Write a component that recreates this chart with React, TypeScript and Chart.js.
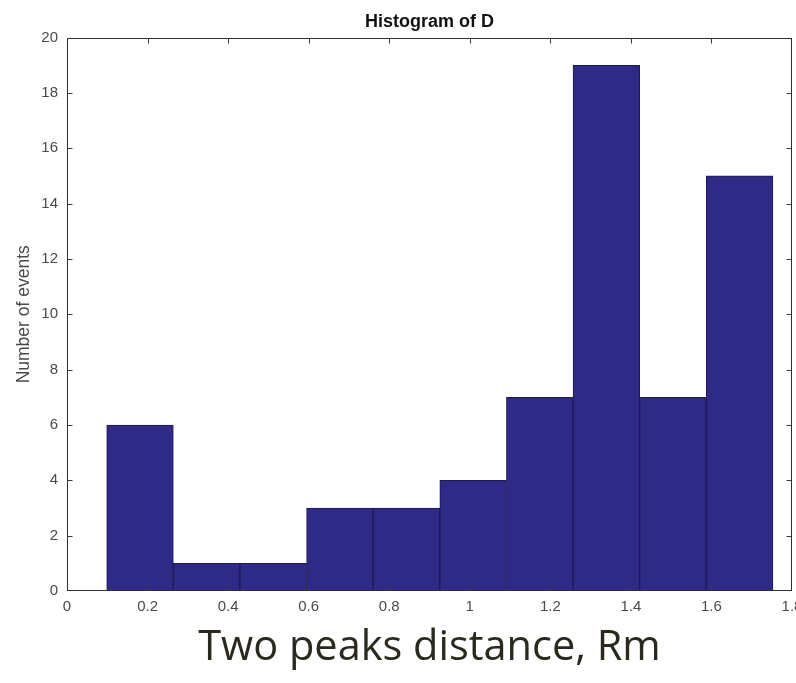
import React, { useEffect, useRef } from 'react';
import { Chart, registerables } from 'chart.js';

Chart.register(...registerables);

// Histogram bin edges (11 edges -> 10 bins) and counts
const binEdges = [0.0986, 0.264, 0.4294, 0.5948, 0.7602, 0.9256, 1.091, 1.2564, 1.4218, 1.5872, 1.7526];
const counts = [6, 1, 1, 3, 3, 4, 7, 19, 7, 15];

const xTickValues = [0, 0.2, 0.4, 0.6, 0.8, 1, 1.2, 1.4, 1.6, 1.8];
const xTickLabels = ['0', '0.2', '0.4', '0.6', '0.8', '1', '1.2', '1.4', '1.6', '1.8'];
const yTickValues = [0, 2, 4, 6, 8, 10, 12, 14, 16, 18, 20];
const yTickLabels = ['0', '2', '4', '6', '8', '10', '12', '14', '16', '18', '20'];

const chartTitle = 'Histogram of D';
const yTitle = 'Number of events';
const xTitle = 'Two peaks distance, Rm';

const framePlugin = {
  id: 'matlabFrame',
  afterDatasetsDraw(chart: any) {
    const { ctx, chartArea: a, scales } = chart;
    const L = Math.round(a.left) + 0.5;
    const R = Math.round(a.right) - 0.5;
    const T = Math.round(a.top) + 0.5;
    const B = Math.round(a.bottom) - 0.5;
    ctx.save();
    ctx.strokeStyle = '#2e2e2e';
    ctx.lineWidth = 1;
    ctx.strokeRect(L, T, R - L, B - T);
    const tl = 5;
    ctx.strokeStyle = '#3a3a3a';
    ctx.beginPath();
    xTickValues.forEach((v) => {
      const px = Math.round(scales.x.getPixelForValue(v)) + 0.5;
      if (px <= L + 1 || px >= R - 1) return;
      ctx.moveTo(px, B);
      ctx.lineTo(px, B - tl);
      ctx.moveTo(px, T);
      ctx.lineTo(px, T + tl);
    });
    yTickValues.forEach((v) => {
      const py = Math.round(scales.y.getPixelForValue(v)) + 0.5;
      if (py <= T + 1 || py >= B - 1) return;
      ctx.moveTo(L, py);
      ctx.lineTo(L + tl, py);
      ctx.moveTo(R, py);
      ctx.lineTo(R - tl, py);
    });
    ctx.stroke();
    ctx.restore();
  },
};

export default function App() {
  const ref = useRef<HTMLCanvasElement | null>(null);

  useEffect(() => {
    if (!ref.current) return;
    const data = counts.map((c, i) => ({ x: (binEdges[i] + binEdges[i + 1]) / 2, y: c }));
    const chart = new Chart(ref.current, {
      type: 'bar',
      data: {
        datasets: [
          {
            data: data as any,
            backgroundColor: '#2e2a86',
            borderColor: '#1c1957',
            borderWidth: 1,
            barPercentage: 1,
            categoryPercentage: 1,
          },
        ],
      },
      plugins: [framePlugin],
      options: {
        responsive: false,
        animation: false,
        devicePixelRatio: 1,
        layout: { padding: { left: 0, right: 4, top: 0, bottom: 0 } },
        plugins: {
          legend: { display: false },
          tooltip: { enabled: false },
          title: {
            display: true,
            fullSize: false,
            text: chartTitle,
            color: '#111111',
            font: { family: 'Liberation Sans', size: 18, weight: 'bold' },
            padding: { top: 11, bottom: 5 },
          },
        },
        scales: {
          x: {
            type: 'linear',
            min: 0,
            max: 1.8,
            offset: false,
            grid: { display: false, drawTicks: false },
            border: { display: false },
            afterBuildTicks: (s: any) => {
              s.ticks = xTickValues.map((v) => ({ value: v }));
            },
            afterFit: (s: any) => {
              s.height = 92;
              s.paddingLeft = 0;
              s.paddingRight = 0;
            },
            ticks: {
              padding: 7,
              color: '#4a4a4a',
              maxRotation: 0,
              autoSkip: false,
              font: { family: 'Liberation Sans', size: 15 },
              callback: (_v: any, i: number) => xTickLabels[i],
            },
            title: {
              display: true,
              text: xTitle,
              color: '#2b291d',
              font: { family: 'Open Sans', size: 41.5 },
              padding: { top: 0, bottom: 10 },
            },
          },
          y: {
            type: 'linear',
            min: 0,
            max: 20,
            grid: { display: false, drawTicks: false },
            border: { display: false },
            afterBuildTicks: (s: any) => {
              s.ticks = yTickValues.map((v) => ({ value: v }));
            },
            afterFit: (s: any) => {
              s.width = 67;
            },
            ticks: {
              padding: 9,
              color: '#4a4a4a',
              autoSkip: false,
              font: { family: 'Liberation Sans', size: 15 },
              callback: (_v: any, i: number) => yTickLabels[i],
            },
            title: {
              display: true,
              text: yTitle,
              color: '#4a4a4a',
              font: { family: 'Liberation Sans', size: 17.5 },
              padding: { top: 14, bottom: 0 },
            },
          },
        },
      } as any,
    });
    return () => chart.destroy();
  }, []);

  return (
    <div style={{ position: 'absolute', left: 0, top: 0, width: 796, height: 683, background: '#ffffff' }}>
      <canvas ref={ref} width={796} height={683} style={{ display: 'block' }} />
    </div>
  );
}
